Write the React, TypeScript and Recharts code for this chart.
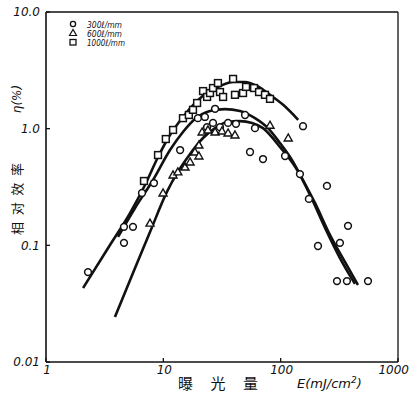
import React from 'react';
import { ComposedChart, XAxis, YAxis, Line, Scatter, ReferenceLine } from 'recharts';

// Measured points (E in mJ/cm², relative efficiency η in %)
const circles300 = [
  { x: 2.28, y: 0.059 }, { x: 4.62, y: 0.144 }, { x: 5.51, y: 0.144 }, { x: 4.62, y: 0.105 },
  { x: 6.58, y: 0.281 }, { x: 8.32, y: 0.342 }, { x: 13.9, y: 0.656 }, { x: 19.7, y: 1.23 },
  { x: 22.6, y: 1.26 }, { x: 23.6, y: 1.03 }, { x: 26.5, y: 1.12 }, { x: 27.6, y: 1.48 },
  { x: 30.4, y: 1.03 }, { x: 35.6, y: 1.12 }, { x: 41.6, y: 1.1 }, { x: 49.7, y: 1.31 },
  { x: 60.4, y: 1.01 }, { x: 54.8, y: 0.631 }, { x: 70.7, y: 0.549 }, { x: 109, y: 0.583 },
  { x: 146, y: 0.408 }, { x: 155, y: 1.05 }, { x: 174, y: 0.25 }, { x: 208, y: 0.0987 },
  { x: 248, y: 0.323 }, { x: 320, y: 0.105 }, { x: 375, y: 0.147 }, { x: 302, y: 0.0494 },
  { x: 367, y: 0.0494 }, { x: 555, y: 0.0494 },
];

const triangles600 = [
  { x: 7.7, y: 0.155 }, { x: 9.94, y: 0.281 }, { x: 12.1, y: 0.401 }, { x: 13.3, y: 0.426 },
  { x: 15.3, y: 0.469 }, { x: 16.9, y: 0.518 }, { x: 18.6, y: 0.631 }, { x: 20.1, y: 0.724 },
  { x: 20.1, y: 0.583 }, { x: 21.4, y: 0.936 }, { x: 24.0, y: 0.975 }, { x: 27.6, y: 0.936 },
  { x: 31.6, y: 0.955 }, { x: 35.6, y: 0.918 }, { x: 40.8, y: 0.883 }, { x: 81.1, y: 1.07 },
  { x: 116, y: 0.832 },
];

const squares1000 = [
  { x: 6.84, y: 0.356 }, { x: 9.01, y: 0.594 }, { x: 10.5, y: 0.815 }, { x: 12.1, y: 0.975 },
  { x: 14.7, y: 1.23 }, { x: 16.5, y: 1.31 }, { x: 17.9, y: 1.45 }, { x: 19.4, y: 1.66 },
  { x: 21.8, y: 2.1 }, { x: 23.6, y: 1.87 }, { x: 25.0, y: 2.02 }, { x: 26.5, y: 2.23 },
  { x: 29.2, y: 2.46 }, { x: 30.4, y: 2.06 }, { x: 32.3, y: 1.87 }, { x: 39.3, y: 2.67 },
  { x: 40.8, y: 1.95 }, { x: 47.8, y: 2.02 }, { x: 50.7, y: 2.28 }, { x: 59.3, y: 2.23 },
  { x: 65.4, y: 2.06 }, { x: 73.5, y: 1.95 }, { x: 81.1, y: 1.8 },
];

// Hand-drawn fitted curves
const curve1000 = [
  { x: 2.07, y: 0.0431 }, { x: 3.51, y: 0.1007 }, { x: 5.2, y: 0.189 }, { x: 6.98, y: 0.329 },
  { x: 9.01, y: 0.572 }, { x: 11.4, y: 0.883 }, { x: 14.7, y: 1.26 }, { x: 19.4, y: 1.73 },
  { x: 24.0, y: 2.06 }, { x: 30.4, y: 2.32 }, { x: 39.3, y: 2.51 }, { x: 49.7, y: 2.51 },
  { x: 62.8, y: 2.32 }, { x: 81.1, y: 1.95 }, { x: 105, y: 1.6 }, { x: 141, y: 1.19 },
];

const curve300 = [
  { x: 4.11, y: 0.118 }, { x: 5.74, y: 0.209 }, { x: 8.17, y: 0.363 }, { x: 11.4, y: 0.656 },
  { x: 14.7, y: 0.936 }, { x: 18.6, y: 1.21 }, { x: 25.0, y: 1.42 }, { x: 33.5, y: 1.47 },
  { x: 45.0, y: 1.42 }, { x: 60.4, y: 1.23 }, { x: 78.0, y: 1.01 }, { x: 98.6, y: 0.753 },
  { x: 125, y: 0.538 }, { x: 155, y: 0.363 }, { x: 196, y: 0.231 }, { x: 263, y: 0.123 },
  { x: 353, y: 0.072 }, { x: 456, y: 0.0457 },
];

const curve600 = [
  { x: 3.87, y: 0.0243 }, { x: 5.74, y: 0.064 }, { x: 7.7, y: 0.13 }, { x: 10.7, y: 0.286 },
  { x: 13.3, y: 0.426 }, { x: 16.2, y: 0.572 }, { x: 21.8, y: 0.832 }, { x: 27.6, y: 1.01 },
  { x: 34.9, y: 1.14 }, { x: 45.0, y: 1.16 }, { x: 57.0, y: 1.12 }, { x: 70.7, y: 1.01 },
  { x: 98.6, y: 0.697 }, { x: 138, y: 0.443 }, { x: 178, y: 0.27 }, { x: 239, y: 0.141 },
  { x: 320, y: 0.0778 }, { x: 430, y: 0.0467 },
];

const xTicks = [1, 10, 100, 1000];
const xTickLabels = ['1', '10', '100', '1000'];
const yTicks = [0.01, 0.1, 1, 10];
const yTickLabels = ['0.01', '0.1', '1.0', '10.0'];
const legendLabels = ['300ℓ/mm', '600ℓ/mm', '1000ℓ/mm'];

const INK = '#111';
const tickFont = { fontSize: 12, fontStyle: 'italic', fill: INK, fontFamily: 'DejaVu Sans' };

const XTick = (p: any) => {
  const v = p.payload.value;
  const label = xTickLabels[xTicks.indexOf(v)] ?? '';
  const isLast = v === 1000;
  return (
    <text
      x={isLast ? 409 : p.x + 1}
      y={p.y}
      dy="0.71em"
      textAnchor={isLast ? 'end' : 'middle'}
      {...tickFont}
    >
      {label}
    </text>
  );
};

const CircleShape = (p: any) => (
  <circle cx={p.cx} cy={p.cy} r={3.4} fill="#fff" stroke={INK} strokeWidth={1.5} />
);
const TriangleShape = (p: any) => {
  const { cx, cy } = p;
  const s = 4;
  return (
    <polygon
      points={`${cx},${cy - s} ${cx - s},${cy + s * 0.75} ${cx + s},${cy + s * 0.75}`}
      fill="#fff"
      stroke={INK}
      strokeWidth={1.4}
    />
  );
};
const SquareShape = (p: any) => (
  <rect x={p.cx - 3.4} y={p.cy - 3.4} width={6.8} height={6.8} fill="#fff" stroke={INK} strokeWidth={1.5} />
);

export default function App() {
  return (
    <div style={{ position: 'absolute', left: 0, top: 0, width: 410, height: 395, background: '#fff' }}>
      <ComposedChart width={410} height={395} margin={{ top: 12, right: 12, bottom: 0, left: 0 }}>
        <XAxis
          dataKey="x"
          type="number"
          scale="log"
          domain={[1, 1000]}
          ticks={xTicks}
          allowDataOverflow
          height={33}
          tickSize={-4}
          tickMargin={7}
          tick={<XTick />}
          axisLine={{ stroke: INK, strokeWidth: 1.6 }}
          tickLine={{ stroke: INK, strokeWidth: 1.3 }}
        />
        <YAxis
          dataKey="y"
          type="number"
          scale="log"
          domain={[0.01, 10]}
          ticks={yTicks}
          tickFormatter={(v: number) => yTickLabels[yTicks.indexOf(v)] ?? ''}
          allowDataOverflow
          width={46}
          tickSize={-4}
          tickMargin={10}
          tick={tickFont}
          axisLine={{ stroke: INK, strokeWidth: 1.6 }}
          tickLine={{ stroke: INK, strokeWidth: 1.3 }}
        />
        <ReferenceLine y={10} stroke={INK} strokeWidth={1.3} />
        <ReferenceLine x={1000} stroke={INK} strokeWidth={1.3} />
        <Line data={curve1000} dataKey="y" type="monotone" stroke={INK} strokeWidth={2.6} dot={false} isAnimationActive={false} />
        <Line data={curve300} dataKey="y" type="monotone" stroke={INK} strokeWidth={2.6} dot={false} isAnimationActive={false} />
        <Line data={curve600} dataKey="y" type="monotone" stroke={INK} strokeWidth={2.6} dot={false} isAnimationActive={false} />
        <Scatter data={circles300} shape={CircleShape} isAnimationActive={false} />
        <Scatter data={triangles600} shape={TriangleShape} isAnimationActive={false} />
        <Scatter data={squares1000} shape={SquareShape} isAnimationActive={false} />
      </ComposedChart>
      <svg width={410} height={395} style={{ position: 'absolute', left: 0, top: 0, pointerEvents: 'none' }}>
        {/* legend */}
        <circle cx={73} cy={24} r={2.6} fill="#fff" stroke={INK} strokeWidth={1.3} />
        <polygon points="73,29.5 69.5,35.5 76.5,35.5" fill="#fff" stroke={INK} strokeWidth={1.2} />
        <rect x={70} y={39.5} width={6} height={5.5} fill="#fff" stroke={INK} strokeWidth={1.3} />
        {legendLabels.map((t, i) => (
          <text
            key={t}
            x={87}
            y={27.5 + i * 9}
            fontSize={9}
            fontStyle="italic"
            fontFamily="DejaVu Sans"
            fill={INK}
            textLength={i === 2 ? 38 : 35}
            lengthAdjust="spacingAndGlyphs"
          >
            {t}
          </text>
        ))}
        {/* y-axis title */}
        <text
          transform="translate(21,99) rotate(-90)"
          textAnchor="middle"
          fontSize={12}
          fontStyle="italic"
          fontFamily="DejaVu Sans"
          fill={INK}
        >
          η(%)
        </text>
        <text
          transform="translate(22,199) rotate(-90)"
          textAnchor="middle"
          fontSize={13}
          fontFamily="Noto Sans CJK SC"
          fill={INK}
          textLength={72}
          lengthAdjust="spacing"
        >
          相对效率
        </text>
        {/* x-axis title */}
        <text
          x={218}
          y={389}
          textAnchor="middle"
          fontSize={15}
          fontFamily="Noto Sans CJK SC"
          fill={INK}
          textLength={80}
          lengthAdjust="spacing"
        >
          曝光量
        </text>
        <text x={297} y={388} fontSize={13} fontStyle="italic" fontFamily="DejaVu Sans" fill={INK}>
          E(mJ/cm
          <tspan dy={-5} fontSize={9}>2</tspan>
          <tspan dy={5}>)</tspan>
        </text>
      </svg>
    </div>
  );
}
